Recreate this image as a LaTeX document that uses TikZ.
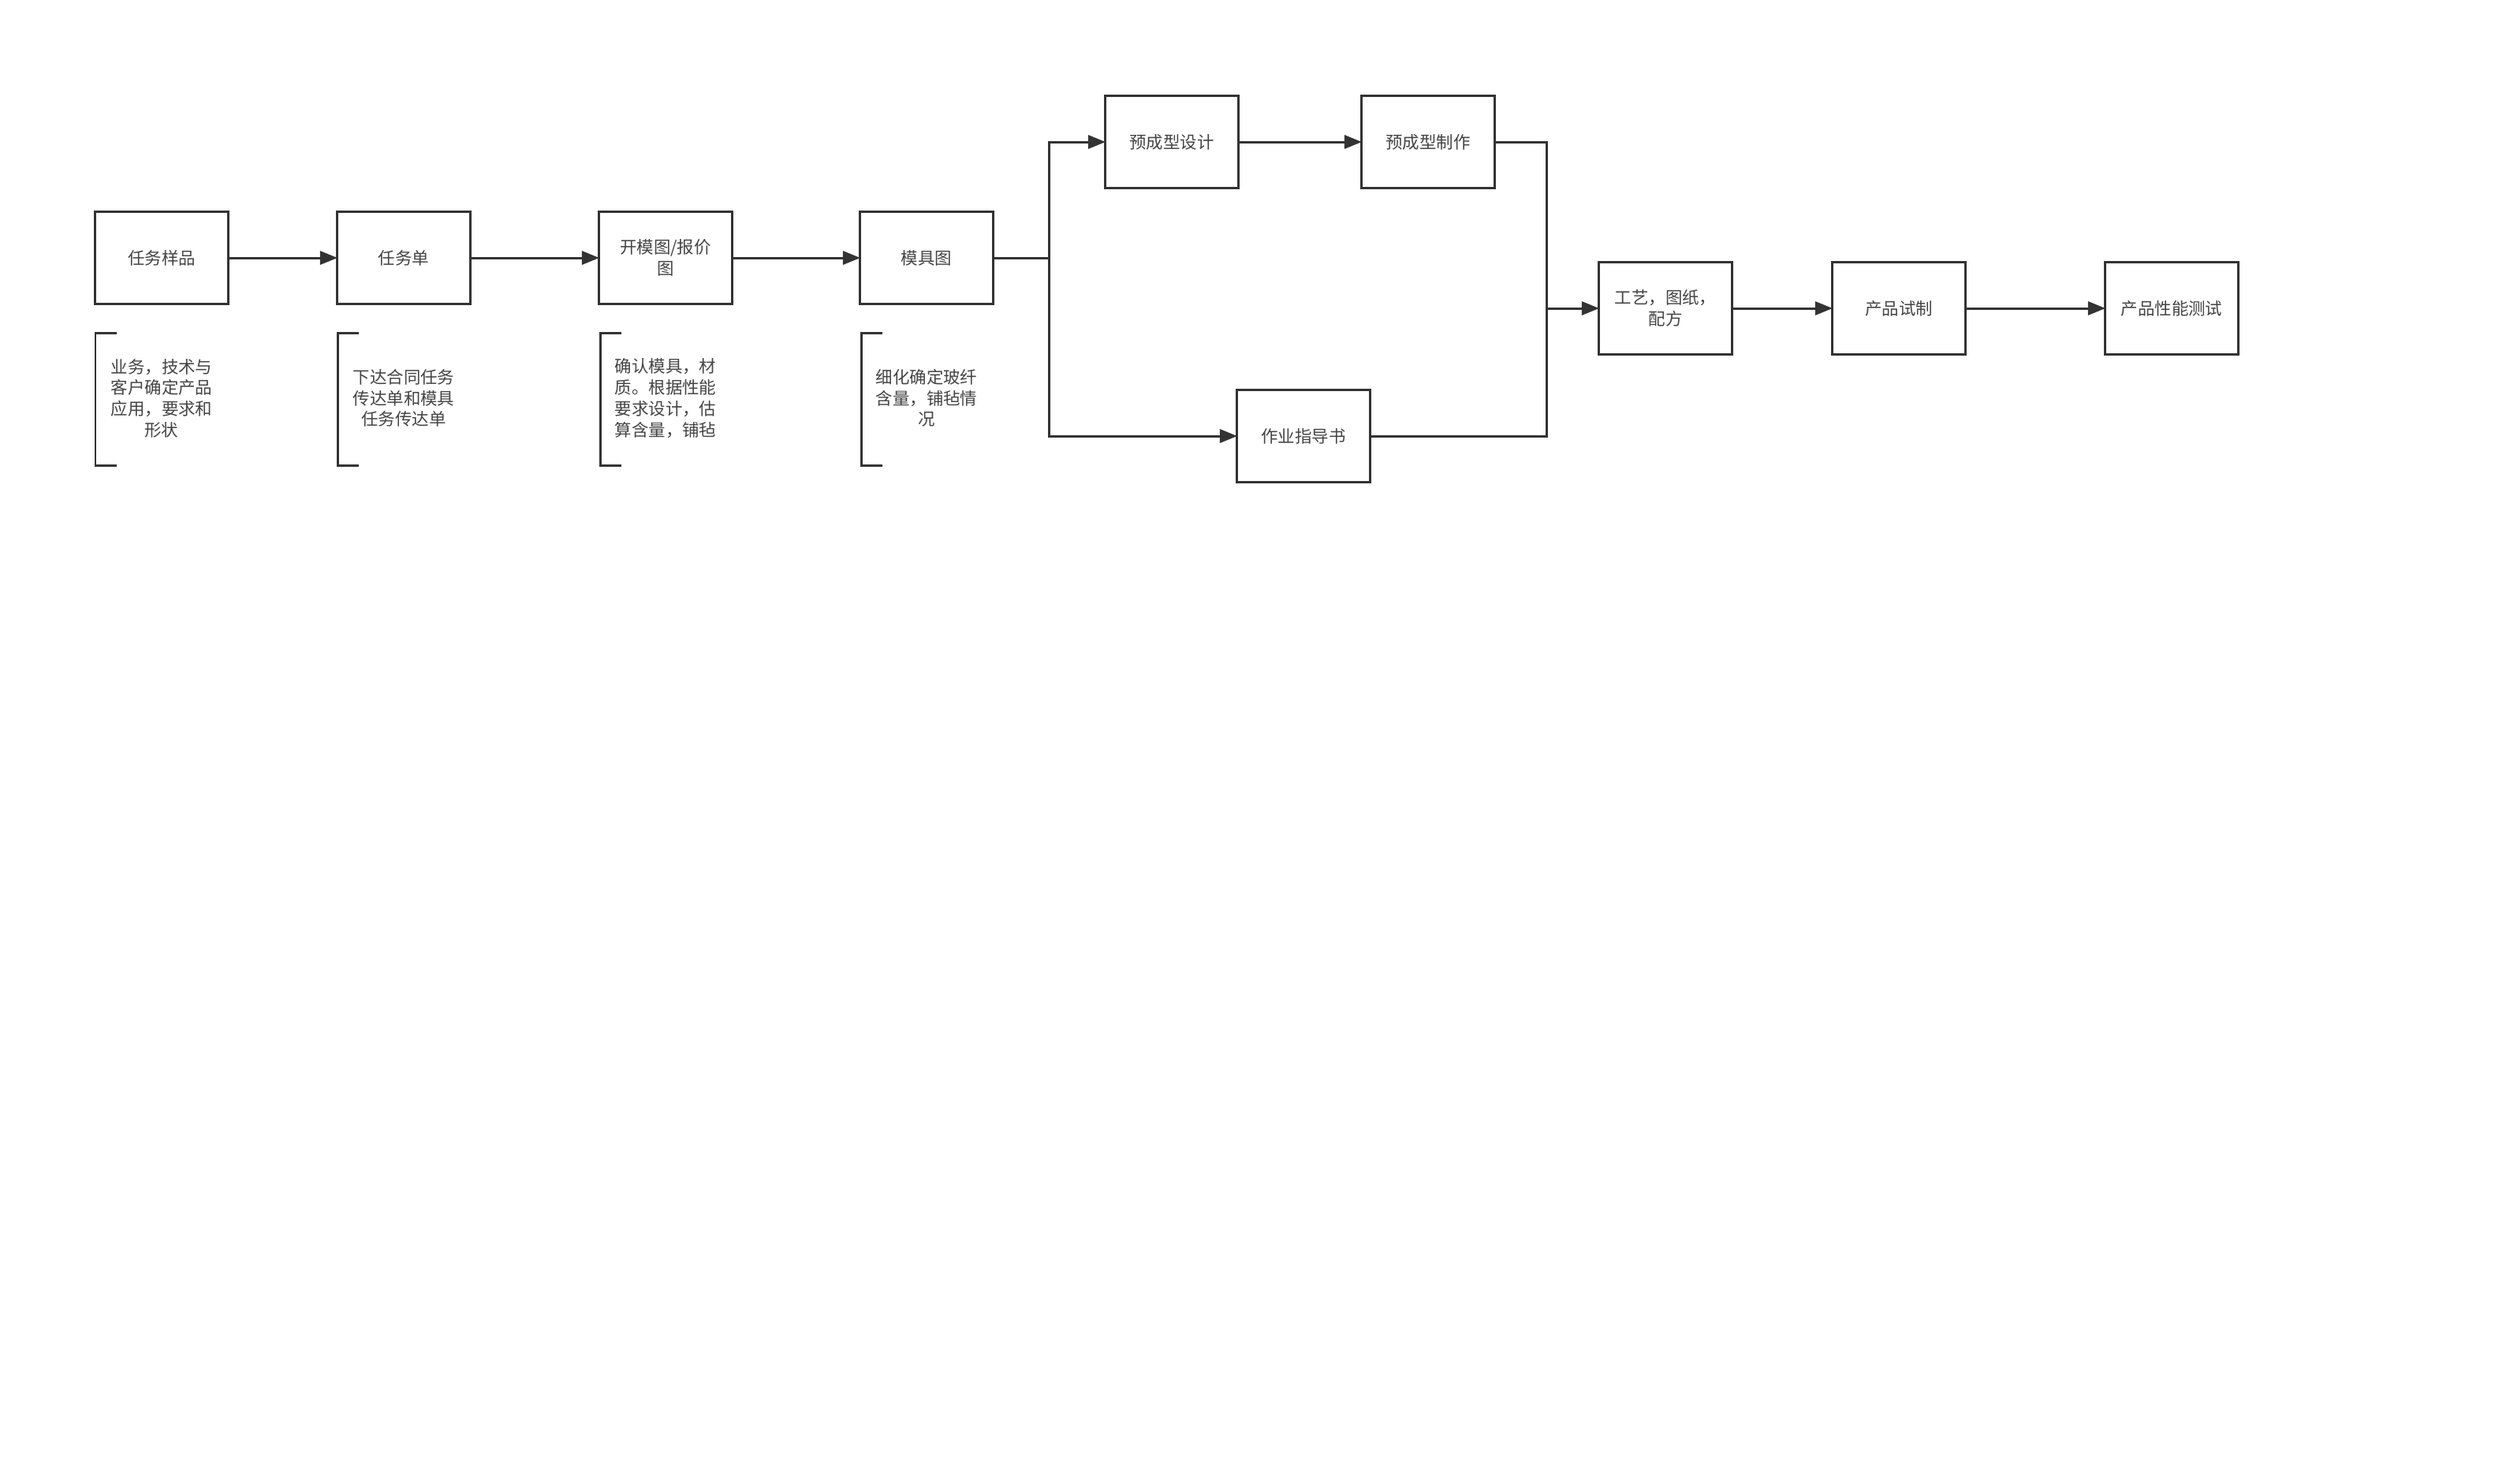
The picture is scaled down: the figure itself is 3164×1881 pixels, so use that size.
\documentclass[tikz,border=0pt]{standalone}
\usepackage{fontspec}
\setmainfont{Noto Sans CJK SC}
\usetikzlibrary{arrows.meta}
\definecolor{ln}{HTML}{333333}
\definecolor{tx}{HTML}{444444}
\tikzset{
  box/.style={draw=ln, line width=0.85pt, minimum width=1.68cm, minimum height=1.17cm,
    inner sep=0pt, outer sep=0pt, align=center, text=tx, font=\fontsize{6.1pt}{7.6pt}\selectfont},
  note/.style={align=center, text=tx, font=\fontsize{6.1pt}{7.6pt}\selectfont, inner sep=0pt},
  brk/.style={draw=ln, line width=0.85pt},
  arr/.style={draw=ln, line width=0.85pt, -{Triangle[length=0.22cm,width=0.17cm]}},
  con/.style={draw=ln, line width=0.85pt}
}
\begin{document}
\begin{tikzpicture}[x=0.01cm, y=-0.01cm]
\useasboundingbox[fill=white] (0,0) rectangle (3164,1881);
% main boxes
\node[box] (b1) at (205,327) {任务样品};
\node[box] (b2) at (512,327) {任务单};
\node[box] (b3) at (844,327) {开模图/报价\\图};
\node[box] (b4) at (1175,327) {模具图};
\node[box] (pd) at (1486,180) {预成型设计};
\node[box] (pm) at (1811,180) {预成型制作};
\node[box] (wi) at (1653,553) {作业指导书};
\node[box] (gy) at (2112,391) {工艺，图纸，\\配方};
\node[box] (sz) at (2408,391) {产品试制};
\node[box] (cs) at (2754,391) {产品性能测试};
% notes
\node[note] (n1) at (205,505) {业务，技术与\\客户确定产品\\应用，要求和\\形状};
\node[note] (n2) at (512,505) {下达合同任务\\传达单和模具\\任务传达单};
\node[note] (n3) at (844,505) {确认模具，材\\质。根据性能\\要求设计，估\\算含量，铺毡};
\node[note] (n4) at (1175,505) {细化确定玻纤\\含量，铺毡情\\况};
% brackets
\foreach \x in {121,428,761,1092}{
  \draw[brk] (\x+27,422) -- (\x,422) -- (\x,590) -- (\x+27,590);
}
% connectors
\coordinate (split) at (1330,327);
\coordinate (merge) at (1961,391);
\draw[arr] (b1) -- (b2);
\draw[arr] (b2) -- (b3);
\draw[arr] (b3) -- (b4);
\draw[con] (b4.east) -- (split);
\draw[arr] (split) |- (pd.west);
\draw[arr] (split) |- (wi.west);
\draw[arr] (pd) -- (pm);
\draw[con] (pm.east) -| (merge);
\draw[con] (wi.east) -| (merge);
\draw[arr] (merge) -- (gy.west);
\draw[arr] (gy) -- (sz);
\draw[arr] (sz) -- (cs);
\end{tikzpicture}
\end{document}
